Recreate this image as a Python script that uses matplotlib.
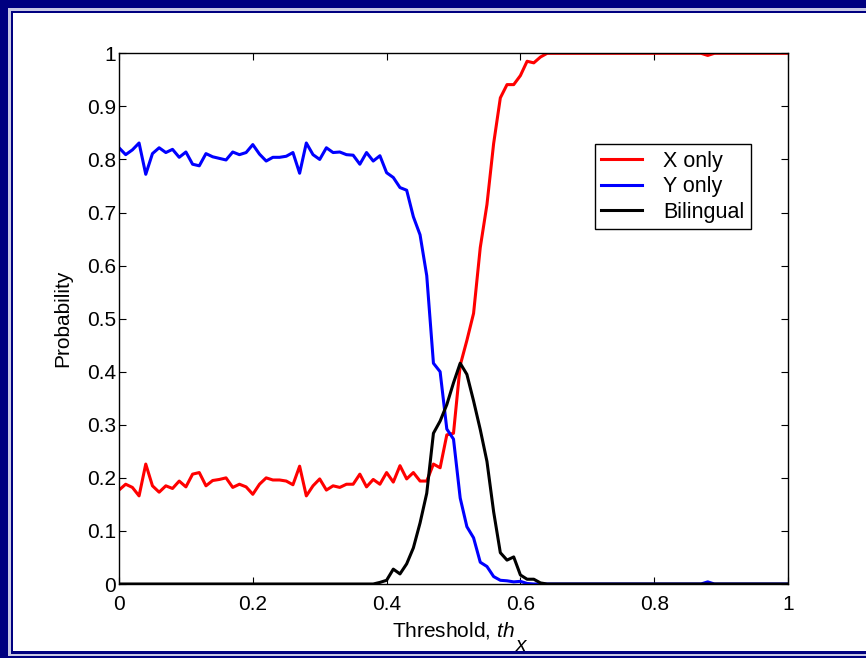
import numpy as np
import matplotlib
matplotlib.use('Agg')
import matplotlib.pyplot as plt
from matplotlib.patches import Rectangle

plt.rcParams['font.family'] = ['Liberation Sans', 'DejaVu Sans']
plt.rcParams['mathtext.fontset'] = 'custom'
plt.rcParams['mathtext.rm'] = 'Liberation Sans'
plt.rcParams['mathtext.it'] = 'Liberation Sans:italic'

# threshold values, step 0.01
threshold = np.arange(101) / 100.0

x_only = [0.177, 0.188, 0.182, 0.166, 0.226, 0.185, 0.173, 0.185, 0.180, 0.194,
          0.183, 0.207, 0.210, 0.185, 0.195, 0.197, 0.200, 0.182, 0.188, 0.183,
          0.169, 0.188, 0.200, 0.196, 0.196, 0.194, 0.187, 0.222, 0.166, 0.185,
          0.198, 0.177, 0.185, 0.182, 0.188, 0.188, 0.207, 0.183, 0.197, 0.188,
          0.210, 0.192, 0.223, 0.198, 0.210, 0.194, 0.194, 0.226, 0.219, 0.281,
          0.284, 0.412, 0.459, 0.510, 0.634, 0.715, 0.830, 0.916, 0.941, 0.941,
          0.958, 0.985, 0.982, 0.993, 1.0, 1.0, 1.0, 1.0, 1.0, 1.0,
          1.0, 1.0, 1.0, 1.0, 1.0, 1.0, 1.0, 1.0, 1.0, 1.0,
          1.0, 1.0, 1.0, 1.0, 1.0, 1.0, 1.0, 1.0, 0.996, 1.0,
          1.0, 1.0, 1.0, 1.0, 1.0, 1.0, 1.0, 1.0, 1.0, 1.0,
          1.0]

y_only = [0.822, 0.809, 0.818, 0.831, 0.772, 0.811, 0.822, 0.813, 0.819, 0.804,
          0.814, 0.791, 0.788, 0.811, 0.805, 0.802, 0.799, 0.814, 0.809, 0.813,
          0.828, 0.810, 0.797, 0.804, 0.804, 0.806, 0.813, 0.774, 0.831, 0.809,
          0.800, 0.822, 0.813, 0.814, 0.809, 0.808, 0.791, 0.813, 0.797, 0.807,
          0.775, 0.766, 0.747, 0.742, 0.692, 0.658, 0.581, 0.416, 0.400, 0.292,
          0.273, 0.162, 0.108, 0.087, 0.041, 0.033, 0.014, 0.007, 0.006, 0.004,
          0.005, 0.001, 0.0, 0.0, 0.0, 0.0, 0.0, 0.0, 0.0, 0.0,
          0.0, 0.0, 0.0, 0.0, 0.0, 0.0, 0.0, 0.0, 0.0, 0.0,
          0.0, 0.0, 0.0, 0.0, 0.0, 0.0, 0.0, 0.0, 0.004, 0.0,
          0.0, 0.0, 0.0, 0.0, 0.0, 0.0, 0.0, 0.0, 0.0, 0.0,
          0.0]

bilingual = [0.0] * 38 + [
    0.0, 0.003, 0.007, 0.028, 0.019, 0.038, 0.068, 0.115, 0.171, 0.284,
    0.307, 0.338, 0.379, 0.416, 0.395, 0.345, 0.291, 0.231, 0.136, 0.059,
    0.045, 0.051, 0.017, 0.009, 0.009, 0.002] + [0.0] * 37

x_ticks = [0, 0.2, 0.4, 0.6, 0.8, 1]
x_tick_labels = ['0', '0.2', '0.4', '0.6', '0.8', '1']
y_ticks = [0, 0.1, 0.2, 0.3, 0.4, 0.5, 0.6, 0.7, 0.8, 0.9, 1]
y_tick_labels = ['0', '0.1', '0.2', '0.3', '0.4', '0.5', '0.6', '0.7', '0.8', '0.9', '1']

W, H = 866, 658
navy = '#000080'

fig = plt.figure(figsize=(W / 100, H / 100), dpi=100)
fig.patch.set_facecolor(navy)


def frame_rect(left, top, bottom, color, z):
    # pixel coords from top-left corner, right side runs off the image
    r = Rectangle((left / W, 1 - bottom / H), 2.0, (bottom - top) / H,
                  transform=fig.transFigure, facecolor=color, edgecolor='none', zorder=z)
    fig.patches.append(r)


frame_rect(8, 8, 655.5, '#c8c8e4', -3)
frame_rect(10.5, 10.5, 653.5, navy, -2)
frame_rect(13, 13, 651, 'white', -1)

ax = fig.add_axes([119 / W, 1 - 584 / H, (788 - 119) / W, (584 - 53.3) / H])
ax.set_facecolor('white')

ax.plot(threshold, x_only, color='red', linewidth=2.2, label='X only')
ax.plot(threshold, y_only, color='blue', linewidth=2.2, label='Y only')
ax.plot(threshold, bilingual, color='black', linewidth=2.2, label='Bilingual')

ax.set_xlim(0, 1)
ax.set_ylim(0, 1)
ax.set_xticks(x_ticks)
ax.set_xticklabels(x_tick_labels)
ax.set_yticks(y_ticks)
ax.set_yticklabels(y_tick_labels)
ax.tick_params(direction='in', top=True, right=True, length=5, width=0.8,
               labelsize=15)
ax.tick_params(axis='x', pad=8)
ax.tick_params(axis='y', pad=2)
for s in ax.spines.values():
    s.set_linewidth(1.0)

ax.set_xlabel('Threshold, $\\mathit{th}$', fontsize=15, labelpad=4)
ax.set_ylabel('Probability', fontsize=15, labelpad=11)

leg = ax.legend(loc='upper right', bbox_to_anchor=(0.945, 0.829), borderaxespad=0,
                fontsize=15.5, fancybox=False, framealpha=1, edgecolor='black',
                handlelength=1.9, handletextpad=1.0, labelspacing=0.22, borderpad=0.3)
leg.get_frame().set_linewidth(1.0)

# the x subscript sits low, at full size, right after "th"
fig.canvas.draw()
bb = ax.xaxis.label.get_window_extent()
fig.text((bb.x1 + 1) / W, (bb.y0 + 5) / H, 'x', fontsize=15, style='italic',
         ha='left', va='top')

fig.savefig('out.png', dpi=100, facecolor=fig.get_facecolor())
